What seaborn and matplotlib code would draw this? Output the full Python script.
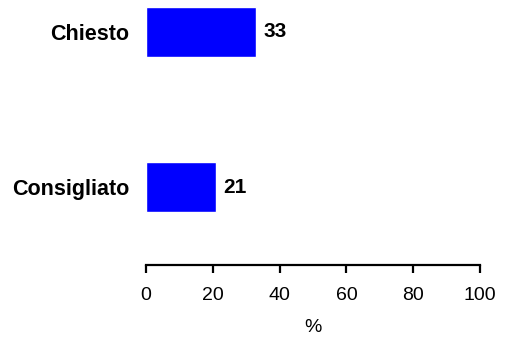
import pandas as pd
import seaborn as sns
import matplotlib.pyplot as plt

# data
categories = ['Chiesto', 'Consigliato']
values = [33, 21]

df = pd.DataFrame({'categoria': categories, 'percentuale': values})

sns.set_style('white')
plt.rcParams['font.family'] = ['Liberation Sans', 'DejaVu Sans']

fig = plt.figure(figsize=(5.05, 3.38), dpi=100)
ax = fig.add_axes([146 / 505, (338 - 265) / 338, 334 / 505, 265 / 338])

sns.barplot(data=df, x='percentuale', y='categoria', orient='h',
            color='#0000ff', saturation=1, width=0.32, ax=ax)

# value labels next to bars
for i, v in enumerate(values):
    ax.text(v + 2.2, i, str(v), va='center', ha='left',
            fontsize=15, fontweight='bold', color='black')

ax.set_xlim(0, 100)
ax.set_ylim(1.503, -0.206)
ax.set_xticks([0, 20, 40, 60, 80, 100])
ax.set_xlabel('%', fontsize=14, labelpad=11, color='black')
ax.set_ylabel('')

for s in ['top', 'right', 'left']:
    ax.spines[s].set_visible(False)
ax.spines['bottom'].set_linewidth(1.6)
ax.spines['bottom'].set_color('black')

ax.tick_params(axis='x', direction='out', length=6, width=1.6,
               labelsize=14, pad=10, bottom=True, colors='black')
ax.tick_params(axis='y', length=0, pad=12, colors='black')
for lbl in ax.get_yticklabels():
    lbl.set_fontweight('bold')
    lbl.set_fontsize(15.5)

fig.savefig('out.png', dpi=100)
